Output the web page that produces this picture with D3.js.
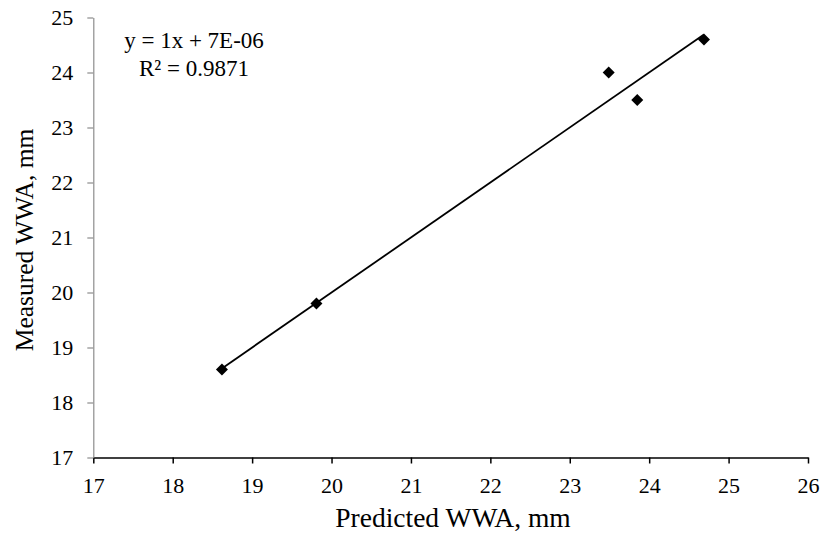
<!DOCTYPE html>
<html>
<head>
<meta charset="utf-8">
<script src="https://cdn.jsdelivr.net/npm/d3@7"></script>
<style>
  body { margin: 0; background: #fff; }
  svg text { font-family: "Liberation Serif", "Times New Roman", serif !important; fill: #000; }
</style>
</head>
<body>
<div id="chart"></div>
<script>
var predicted = [18.62, 19.81, 23.49, 23.85, 24.69];
var measured = [18.6, 19.8, 24.0, 23.5, 24.6];
var xTicks = [17, 18, 19, 20, 21, 22, 23, 24, 25, 26];
var yTicks = [17, 18, 19, 20, 21, 22, 23, 24, 25];
var equationLines = ["y = 1x + 7E-06", "R\u00b2 = 0.9871"];

var width = 821, height = 536;
var svg = d3.select("#chart").append("svg")
  .attr("width", width)
  .attr("height", height);

var x = d3.scaleLinear().domain([17, 26]).range([93.3, 808]);
var y = d3.scaleLinear().domain([17, 25]).range([457.5, 17.5]);

// x axis
var xAxis = svg.append("g")
  .attr("transform", "translate(0," + y(17) + ")")
  .call(d3.axisBottom(x).tickValues(xTicks).tickSize(6).tickSizeOuter(0).tickFormat(d3.format("d")));
xAxis.attr("font-family", null);
xAxis.select(".domain").attr("stroke", "#000").attr("stroke-width", 1.6);
xAxis.selectAll(".tick line").attr("stroke", "#000").attr("stroke-width", 1.5);
xAxis.selectAll(".tick text").attr("font-size", 22).attr("y", 35).attr("dy", 0);

// y axis
var yAxis = svg.append("g")
  .attr("transform", "translate(" + x(17) + ",0)")
  .call(d3.axisLeft(y).tickValues(yTicks).tickSize(6).tickSizeOuter(0).tickFormat(d3.format("d")));
yAxis.attr("font-family", null);
yAxis.select(".domain").attr("stroke", "#8c8c8c").attr("stroke-width", 1.2);
yAxis.selectAll(".tick line").attr("stroke", "#8c8c8c").attr("stroke-width", 1.2);
yAxis.selectAll(".tick text").attr("font-size", 22).attr("x", -20);

// trendline y = x over the data range
var xmin = d3.min(predicted), xmax = d3.max(predicted);
svg.append("line")
  .attr("x1", x(xmin)).attr("y1", y(xmin))
  .attr("x2", x(xmax)).attr("y2", y(xmax))
  .attr("stroke", "#000").attr("stroke-width", 1.8);

// points (diamonds)
var diamond = d3.symbol().type(d3.symbolSquare).size(72);
svg.append("g").selectAll("path")
  .data(predicted)
  .enter()
  .append("path")
  .attr("d", diamond)
  .attr("transform", function(d, i) { return "translate(" + x(d) + "," + y(measured[i]) + ") rotate(45)"; })
  .attr("fill", "#000");

// equation
svg.append("g").selectAll("text")
  .data(equationLines)
  .enter()
  .append("text")
  .attr("x", 194)
  .attr("y", function(d, i) { return 48 + i * 28; })
  .attr("text-anchor", "middle")
  .attr("font-size", 23)
  .text(function(d) { return d; });

// axis titles
svg.append("text")
  .attr("x", 453)
  .attr("y", 527)
  .attr("text-anchor", "middle")
  .attr("font-size", 27.5)
  .text("Predicted WWA, mm");

svg.append("text")
  .attr("transform", "translate(33,240) rotate(-90)")
  .attr("text-anchor", "middle")
  .attr("font-size", 25.5)
  .text("Measured WWA, mm");
</script>
</body>
</html>
